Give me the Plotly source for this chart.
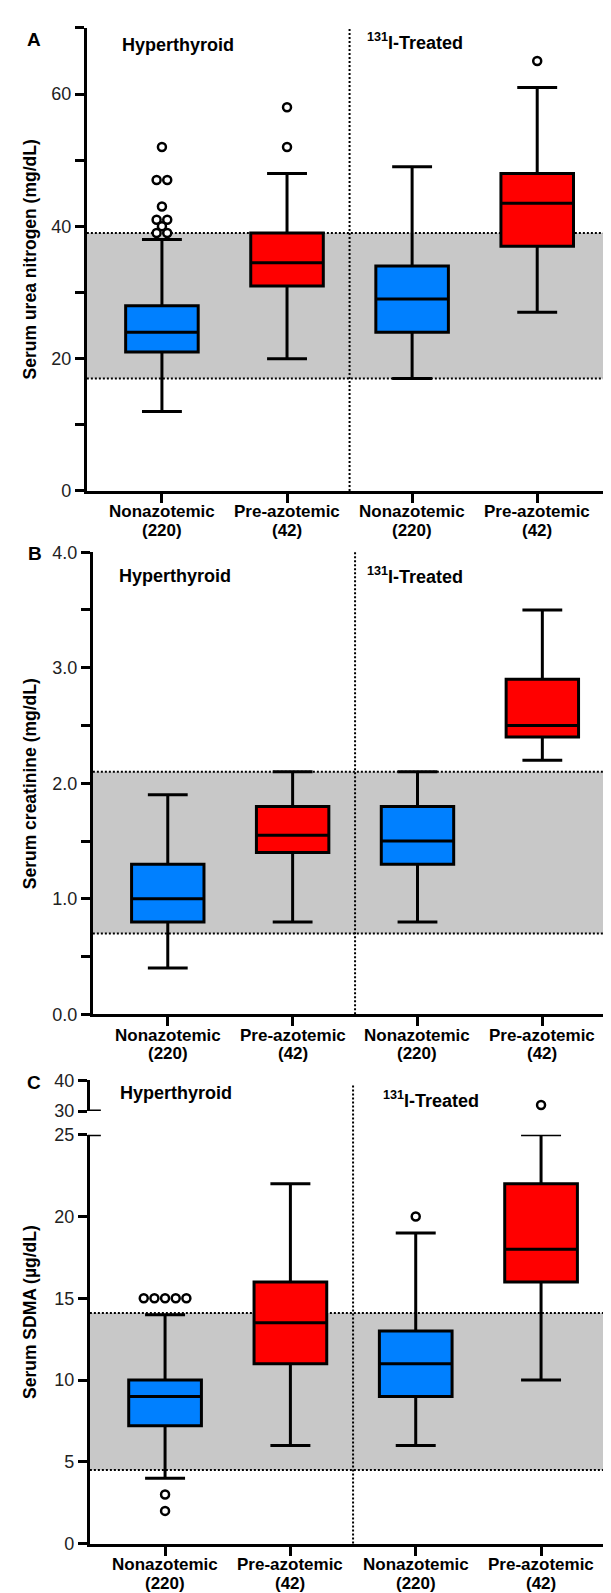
import plotly.graph_objects as go

W, H = 611, 1593

# ---------------- data ----------------
categories = ["Nonazotemic", "Pre-azotemic", "Nonazotemic", "Pre-azotemic"]
counts = [220, 42, 220, 42]
box_colors = ["rgb(0,128,255)", "rgb(255,0,0)", "rgb(0,128,255)", "rgb(255,0,0)"]

# Panel A: Serum urea nitrogen (mg/dL)
bun_low = [12, 20, 17, 27]
bun_q1 = [21, 31, 24, 37]
bun_med = [24, 34.5, 29, 43.5]
bun_q3 = [28, 39, 34, 48]
bun_high = [38, 48, 49, 61]
bun_out = [[52, 47, 47, 43, 41, 41, 40, 39, 39], [58, 52], [], [65]]
bun_ref = [17, 39]

# Panel B: Serum creatinine (mg/dL)
cre_low = [0.4, 0.8, 0.8, 2.2]
cre_q1 = [0.8, 1.4, 1.3, 2.4]
cre_med = [1.0, 1.55, 1.5, 2.5]
cre_q3 = [1.3, 1.8, 1.8, 2.9]
cre_high = [1.9, 2.1, 2.1, 3.5]
cre_out = [[], [], [], []]
cre_ref = [0.7, 2.1]

# Panel C: Serum SDMA (µg/dL)
sdma_low = [4, 6, 6, 10]
sdma_q1 = [7.2, 11, 9, 16]
sdma_med = [9, 13.5, 11, 18]
sdma_q3 = [10, 16, 13, 22]
sdma_high = [14, 22, 19, 25]
sdma_out = [[15, 15, 15, 15, 15, 3, 2], [], [20], [32]]
sdma_ref = [4.5, 14.1]
sdma_break = 25  # values above go to upper (30-40) axis

bun_ticks = [0, 20, 40, 60]
cre_ticks = [0.0, 1.0, 2.0, 3.0, 4.0]
sdma_ticks = [0, 5, 10, 15, 20, 25]
sdma_top_ticks = [30, 40]

# ---------------- layout helpers ----------------
def fx(px):
    return px / W

def fy(px):
    return 1 - px / H

FONT = "Liberation Sans, Arial, Helvetica, sans-serif"
XR = [-0.6, 3.59]
BOXW = 0.58

panels = {
    "A": dict(l=79, r=604, t=10, b=479),
    "B": dict(l=85, r=609, t=541, b=1009),
    "C": dict(l=82, r=608, t=1131, b=1545, tt=1076, tb=1107),
}

fig = go.Figure()

def add_boxes(xa, ya, low, q1, med, q3, high):
    for i in range(4):
        fig.add_trace(go.Box(
            x=[i], q1=[q1[i]], median=[med[i]], q3=[q3[i]],
            lowerfence=[low[i]], upperfence=[high[i]],
            fillcolor=box_colors[i], line=dict(color="black", width=3),
            width=BOXW, whiskerwidth=0.55, boxpoints=False,
            xaxis=xa, yaxis=ya, showlegend=False, hoverinfo="skip"))

def add_outliers(xa, ya, outs, keep=lambda v: True, step=0.085):
    xs, ys = [], []
    for i, vals in enumerate(outs):
        uniq = []
        for v in vals:
            if keep(v) and v not in uniq:
                uniq.append(v)
        for v in uniq:
            n = vals.count(v)
            for k in range(n):
                xs.append(i + (k - (n - 1) / 2) * step)
                ys.append(v)
    if xs:
        fig.add_trace(go.Scatter(
            x=xs, y=ys, mode="markers", xaxis=xa, yaxis=ya,
            marker=dict(symbol="circle", size=8, color="white",
                        line=dict(color="black", width=2.5)),
            showlegend=False, hoverinfo="skip"))

add_boxes("x", "y", bun_low, bun_q1, bun_med, bun_q3, bun_high)
add_outliers("x", "y", bun_out)
add_boxes("x2", "y2", cre_low, cre_q1, cre_med, cre_q3, cre_high)
add_outliers("x2", "y2", cre_out)
add_boxes("x3", "y3", sdma_low, sdma_q1, sdma_med, sdma_q3, sdma_high)
add_outliers("x3", "y3", sdma_out, keep=lambda v: v <= sdma_break)
add_outliers("x3", "y4", sdma_out, keep=lambda v: v > sdma_break)

def xaxis_cfg(p, anchor):
    return dict(domain=[fx(p["l"]), fx(p["r"])], range=XR, anchor=anchor,
                tickmode="array", tickvals=[0, 1, 2, 3], showticklabels=False,
                ticks="outside", ticklen=9, tickwidth=3, tickcolor="black",
                showline=True, linewidth=3, linecolor="black", mirror=False,
                showgrid=False, zeroline=False, fixedrange=True)

def yaxis_cfg(top, bot, rng, tickvals, anchor, mirror, fmt, minor_dtick=None):
    cfg = dict(domain=[fy(bot), fy(top)], range=rng, anchor=anchor,
               tickmode="array", tickvals=tickvals, tickformat=fmt,
               ticks="outside", ticklen=9, tickwidth=3, tickcolor="black",
               showline=True, linewidth=3, linecolor="black", mirror=mirror,
               showgrid=False, zeroline=False, fixedrange=True,
               tickfont=dict(family=FONT, size=18, color="#222"))
    if minor_dtick:
        cfg["minor"] = dict(ticks="outside", ticklen=9, tickwidth=3, tickcolor="black",
                            tick0=0, dtick=minor_dtick, showgrid=False)
    return cfg

pA, pB, pC = panels["A"], panels["B"], panels["C"]
fig.update_layout(
    xaxis=xaxis_cfg(pA, "y"),
    xaxis2=xaxis_cfg(pB, "y2"),
    xaxis3=xaxis_cfg(pC, "y3"),
    yaxis=yaxis_cfg(pA["t"], pA["b"], [0, 70], bun_ticks, "x", True, "d", 10),
    yaxis2=yaxis_cfg(pB["t"], pB["b"], [0, 4], cre_ticks, "x2", True, ".1f", 0.5),
    yaxis3=yaxis_cfg(pC["t"], pC["b"], [0, 25], sdma_ticks, "x3", False, "d"),
    yaxis4=yaxis_cfg(pC["tt"], pC["tb"], [30, 40], sdma_top_ticks, "x3", False, "d"),
)

shapes = []
dot = dict(color="black", width=2, dash="2px,2px")

def ref_band(xa, ya, lo, hi):
    shapes.append(dict(type="rect", xref=xa + " domain", yref=ya, x0=0, x1=1, y0=lo, y1=hi,
                       fillcolor="rgb(200,200,200)", line=dict(width=0), layer="below"))
    for v in (lo, hi):
        shapes.append(dict(type="line", xref=xa + " domain", yref=ya, x0=0, x1=1, y0=v, y1=v,
                           line=dot, layer="below"))

ref_band("x", "y", *bun_ref)
ref_band("x2", "y2", *cre_ref)
ref_band("x3", "y3", *sdma_ref)

# group separators
shapes.append(dict(type="line", xref="x", yref="y domain", x0=1.5, x1=1.5, y0=0, y1=1, line=dot, layer="below"))
shapes.append(dict(type="line", xref="x2", yref="y2 domain", x0=1.5, x1=1.5, y0=0, y1=1, line=dot, layer="below"))
shapes.append(dict(type="line", xref="x3", yref="paper", x0=1.5, x1=1.5,
                   y0=fy(pC["b"]), y1=fy(pC["tt"] + 5), line=dot, layer="below"))
# right frame of panel C (continuous across the break)
shapes.append(dict(type="line", xref="x3 domain", yref="paper", x0=1, x1=1,
                   y0=fy(pC["b"] + 1.5), y1=fy(pC["tt"]), line=dict(color="black", width=3)))
# break marks on panel C axis
bw = 11 / (pC["r"] - pC["l"])
shapes.append(dict(type="line", xref="x3 domain", yref="y4", x0=-0.004, x1=bw, y0=30, y1=30,
                   line=dict(color="black", width=3)))
shapes.append(dict(type="line", xref="x3 domain", yref="y3", x0=-0.004, x1=bw, y0=25, y1=25,
                   line=dict(color="black", width=3)))

annotations = []

def ann(text, x, y, size, xanchor="center", angle=0, xref="paper"):
    annotations.append(dict(text=text, x=(fx(x) if xref == "paper" else x), y=fy(y),
                            xref=xref, yref="paper",
                            xanchor=xanchor, yanchor="middle", showarrow=False, textangle=angle,
                            font=dict(family=FONT, size=size, color="black")))

ann("<b>A</b>", 26, 22, 19)
ann("<b>B</b>", 27, 542, 19)
ann("<b>C</b>", 26, 1078, 19)
ann("<b>Serum urea nitrogen (mg/dL)</b>", 22, (pA["t"] + pA["b"]) / 2, 17.5, angle=-90)
ann("<b>Serum creatinine (mg/dL)</b>", 22, (pB["t"] + pB["b"]) / 2, 17.5, angle=-90)
ann("<b>Serum SDMA (µg/dL)</b>", 22, (pC["tt"] + pC["b"]) / 2, 17.5, angle=-90)
ann("<b>Hyperthyroid</b>", 112, 27, 18, xanchor="left")
ann("<b>Hyperthyroid</b>", 109, 565, 18, xanchor="left")
ann("<b>Hyperthyroid</b>", 110, 1089, 18, xanchor="left")
ann("<b><sup>131</sup>I-Treated</b>", 358, 24, 18, xanchor="left")
ann("<b><sup>131</sup>I-Treated</b>", 358, 565, 18, xanchor="left")
ann("<b><sup>131</sup>I-Treated</b>", 374, 1095, 18, xanchor="left")

# category labels (two lines) under each x axis
for xa, p in (("x", pA), ("x2", pB), ("x3", pC)):
    for i, (c, n) in enumerate(zip(categories, counts)):
        ann("<b>%s</b>" % c, i, p["b"] + 21, 17, xref=xa)
        ann("<b>(%d)</b>" % n, i, p["b"] + 40, 17, xref=xa)

fig.update_layout(
    width=W, height=H, margin=dict(l=0, r=0, t=0, b=0),
    paper_bgcolor="white", plot_bgcolor="white",
    boxmode="overlay", showlegend=False,
    shapes=shapes, annotations=annotations,
    font=dict(family=FONT, color="black"),
)

fig.write_html("out.html")
